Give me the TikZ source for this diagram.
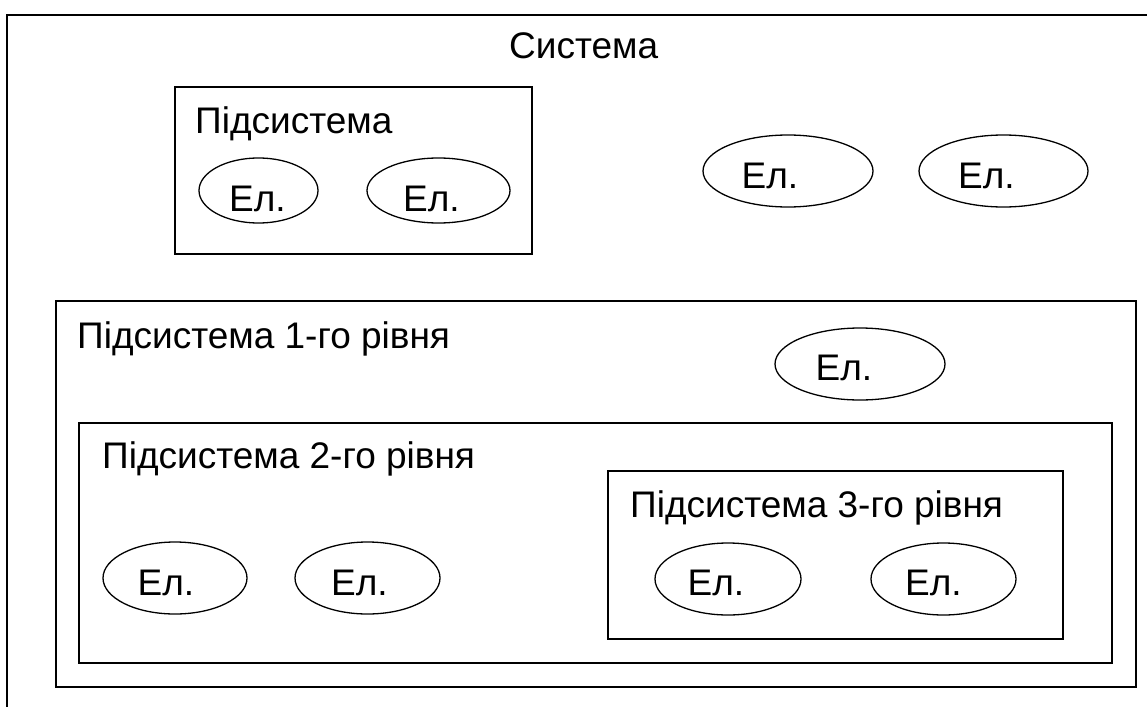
\documentclass[tikz,border=0pt]{standalone}
\usepackage{fontspec}
\setmainfont{Liberation Sans}
\usetikzlibrary{shapes.geometric}
\tikzset{
  box/.style={draw, line width=2pt, rectangle, inner sep=0pt},
  el/.style={draw, line width=1.3pt, ellipse, inner sep=0pt},
  eltxt/.style={anchor=base, inner sep=0pt, font=\fontsize{37}{40}\selectfont},
  lbl/.style={anchor=base west, inner sep=0pt, font=\fontsize{37}{40}\selectfont}
}
\begin{document}
\begin{tikzpicture}[x=1pt,y=-1pt]
\useasboundingbox (0,0) rectangle (1147,706);
\clip (0,0) rectangle (1147,706);
% outer system box (extends beyond right and bottom)
\draw[line width=2pt] (7,730) -- (7,15) -- (1170,15);
\node[box, minimum width=357pt, minimum height=167pt] (sub) at (353.5,170.5) {};
\node[box, minimum width=1080pt, minimum height=386pt] (l1) at (596,494) {};
\node[box, minimum width=1033pt, minimum height=240pt] (l2) at (595.5,543) {};
\node[box, minimum width=455pt, minimum height=168pt] (l3) at (835.5,555) {};

\node[lbl] (tsys) at (509,59) {Система};
\node[lbl] (tsub) at (195,133) {Підсистема};
\node[lbl] (tl1) at (77,348) {Підсистема 1-го рівня};
\node[lbl] (tl2) at (102,468) {Підсистема 2-го рівня};
\node[lbl] (tl3) at (630,517) {Підсистема 3-го рівня};

\node[el, minimum width=119pt, minimum height=65pt] (e1) at (258.5,190.5) {};
\node[el, minimum width=143pt, minimum height=65pt] (e2) at (438.5,190.5) {};
\node[el, minimum width=170pt, minimum height=72pt] (e3) at (788,171) {};
\node[el, minimum width=169pt, minimum height=72pt] (e4) at (1003.5,171) {};
\node[el, minimum width=170pt, minimum height=72pt] (e5) at (860,364) {};
\node[el, minimum width=146pt, minimum height=72pt] (e6) at (728,579) {};
\node[el, minimum width=145pt, minimum height=72pt] (e7) at (943.5,579) {};
\node[el, minimum width=144pt, minimum height=72pt] (e8) at (175,578) {};
\node[el, minimum width=145pt, minimum height=72pt] (e9) at (367.5,578) {};

\node[eltxt] (t1) at ([xshift=-1pt,yshift=-21pt]e1.center) {Ел.};
\node[eltxt] (t2) at ([xshift=-7pt,yshift=-21pt]e2.center) {Ел.};
\node[eltxt] (t3) at ([xshift=-18pt,yshift=-17pt]e3.center) {Ел.};
\node[eltxt] (t4) at ([xshift=-17pt,yshift=-17pt]e4.center) {Ел.};
\node[eltxt] (t5) at ([xshift=-16pt,yshift=-16pt]e5.center) {Ел.};
\node[eltxt] (t6) at ([xshift=-12pt,yshift=-16pt]e6.center) {Ел.};
\node[eltxt] (t7) at ([xshift=-10pt,yshift=-16pt]e7.center) {Ел.};
\node[eltxt] (t8) at ([xshift=-9pt,yshift=-17pt]e8.center) {Ел.};
\node[eltxt] (t9) at ([xshift=-8pt,yshift=-17pt]e9.center) {Ел.};
\end{tikzpicture}
\end{document}
